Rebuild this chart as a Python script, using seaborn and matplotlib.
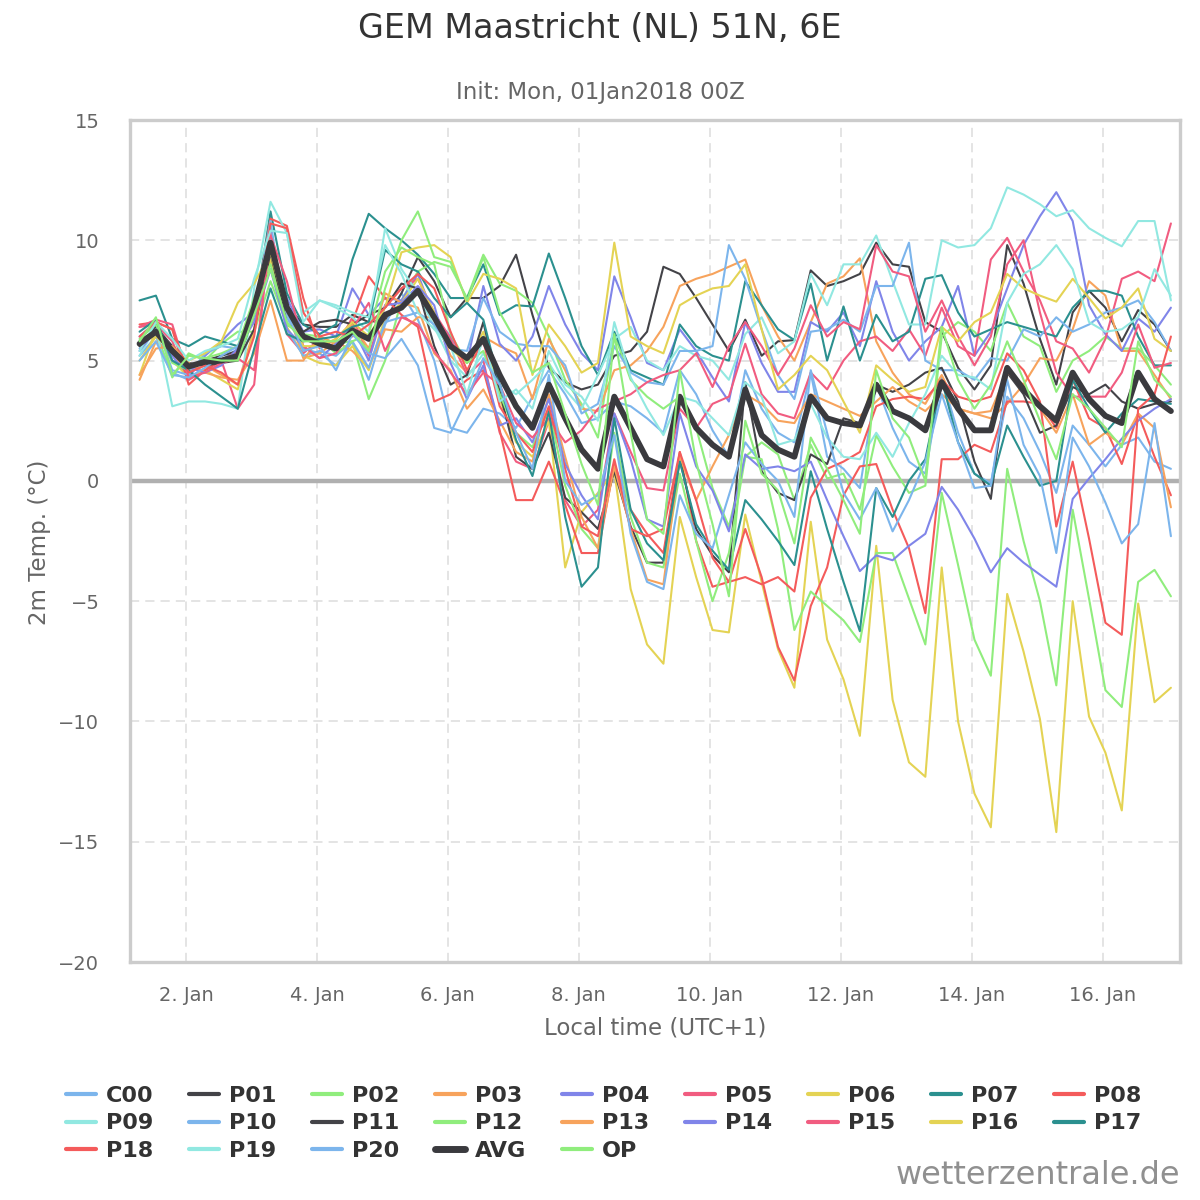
import numpy as np
import pandas as pd
import seaborn as sns
import matplotlib
matplotlib.use("Agg")
import matplotlib.pyplot as plt
from matplotlib.lines import Line2D

# 6-hourly steps, +6h .. +384h, shown in local time (UTC+1)
times = pd.date_range("2018-01-01 07:00", periods=64, freq="6h")

avg = [5.7, 6.2, 5.4, 4.75, 4.95, 5.0, 5.2, 7.2,
       9.9, 7.2, 6.0, 5.7, 5.5, 6.25, 5.9, 6.9,
       7.2, 7.9, 6.8, 5.6, 5.1, 5.9, 4.4, 3.1,
       2.2, 4.0, 2.6, 1.3, 0.5, 3.5, 2.2, 0.9,
       0.6, 3.5, 2.2, 1.5, 1.0, 3.8, 1.9, 1.3,
       1.0, 3.5, 2.6, 2.4, 2.3, 4.0, 2.9, 2.6,
       2.1, 4.1, 3.0, 2.1, 2.1, 4.7, 3.8, 3.1,
       2.5, 4.5, 3.4, 2.7, 2.4, 4.5, 3.4, 2.9]

c00 = [5.2, 6.0, 4.5, 4.2, 4.6, 5.0, 5.5, 7.0,
       10.2, 6.8, 5.5, 5.3, 4.8, 5.8, 4.2, 6.5,
       7.8, 6.7, 5.0, 2.2, 2.0, 3.0, 2.8, 2.2,
       3.5, 4.6, 3.6, 2.4, 2.6, 3.3, 3.1, 2.6,
       2.0, 4.6, 3.6, 2.1, 1.0, 4.6, 3.0, 2.0,
       1.6, 4.5, 1.0, 0.5, -0.3, 4.0, 2.2, 0.8,
       0.3, 4.3, 2.0, 0.3, -0.1, 3.5, 2.6, 1.2,
       -0.5, 2.3, 1.5, 0.6, 1.5, 1.8, 0.8, 0.5]

p01 = [5.8, 6.3, 5.4, 4.8, 5.0, 5.2, 5.4, 7.0,
       9.8, 7.3, 6.5, 6.4, 6.4, 6.9, 6.6, 6.7,
       7.8, 9.3, 8.3, 6.8, 7.6, 7.6, 8.1, 9.4,
       6.9, 4.7, 4.1, 3.8, 4.0, 5.2, 5.4, 6.2,
       8.9, 8.6, 7.6, 6.5, 5.4, 6.7, 5.2, 5.8,
       5.85, 8.75, 8.1, 8.3, 8.6, 9.9, 9.0, 8.9,
       6.6, 6.2, 4.7, 3.8, 4.8, 9.8, 8.2, 5.9,
       4.0, 7.0, 7.9, 7.2, 5.8, 7.1, 6.5, 5.4]

p02 = [5.8, 6.2, 4.3, 5.3, 5.0, 5.7, 6.2, 6.2,
       8.3, 6.5, 6.1, 6.0, 5.7, 5.8, 3.4, 5.0,
       7.5, 8.7, 9.1, 8.9, 7.6, 9.4, 8.2, 7.9,
       7.4, 6.0, 4.2, 3.2, 1.8, 6.1, 4.2, 3.5,
       3.0, 3.5, 2.2, -0.3, -1.9, 1.0, 1.6, 1.1,
       -0.8, 1.5, 0.1, 0.3, -1.2, 1.9, 0.6, -0.5,
       -0.2, 6.0, 6.6, 6.2, 5.4, 7.4, 6.0, 5.6,
       3.7, 5.0, 5.4, 6.0, 5.5, 5.5, 4.8, 4.0]

p03 = [4.2, 5.8, 5.3, 4.5, 4.8, 4.4, 4.0, 6.3,
       10.3, 7.2, 5.1, 5.3, 5.8, 5.4, 4.7, 6.3,
       6.2, 6.8, 6.8, 5.2, 4.5, 6.0, 5.6, 5.3,
       3.4, 5.9, 4.6, 3.0, 2.9, 4.6, 4.8, 5.4,
       6.4, 8.1, 8.4, 8.6, 8.9, 9.2, 7.3, 6.0,
       5.0, 6.6, 8.2, 8.5, 9.25, 5.8, 4.5, 3.6,
       3.2, 4.4, 3.0, 2.8, 2.6, 3.2, 4.0, 5.1,
       5.0, 6.3, 8.3, 7.7, 5.4, 5.4, 4.4, 3.4]

p04 = [6.0, 6.6, 5.2, 4.3, 5.2, 5.8, 6.5, 7.0,
       9.2, 7.6, 6.2, 6.3, 6.0, 8.0, 6.9, 7.6,
       7.5, 8.6, 6.8, 6.0, 4.9, 8.1, 5.7, 5.0,
       6.0, 8.1, 6.5, 5.3, 4.6, 8.5, 6.8, 4.9,
       4.6, 6.3, 5.4, 4.3, 3.3, 6.6, 4.9, 3.7,
       3.7, 6.6, 6.2, 7.0, 5.6, 8.3, 6.2, 5.0,
       5.8, 6.4, 8.1, 5.2, 6.2, 8.0, 9.8, 11.0,
       12.0, 10.8, 7.3, 6.1, 5.4, 6.75, 6.2, 7.2]

p05 = [6.4, 6.5, 5.8, 4.2, 4.6, 5.0, 3.0, 4.0,
       10.6, 6.1, 5.3, 5.9, 5.5, 6.8, 5.2, 7.3,
       8.0, 8.4, 7.0, 5.9, 4.4, 5.0, 2.0, 0.8,
       0.5, 2.5, -0.8, -1.9, -1.2, 2.8, 1.2, -0.3,
       -0.4, 3.0, 2.2, 3.2, 3.5, 5.7, 3.6, 2.8,
       2.6, 4.5, 3.8, 5.0, 5.8, 6.0, 5.4, 6.3,
       5.2, 7.2, 5.6, 5.2, 9.2, 10.1, 8.7, 7.5,
       5.8, 5.5, 4.5, 5.9, 8.4, 8.7, 8.3, 10.7]

p06 = [4.4, 6.3, 5.0, 4.3, 4.6, 4.2, 3.8, 6.2,
       9.2, 6.4, 5.2, 4.9, 4.8, 5.6, 4.6, 6.8,
       7.4, 8.4, 7.0, 5.5, 4.9, 6.2, 3.4, 1.6,
       1.0, 2.5, -3.6, -1.3, -0.5, 0.4, -4.5, -6.8,
       -7.6, -1.5, -4.0, -6.2, -6.3, -1.4, -4.2, -7.0,
       -8.6, -1.7, -6.6, -8.25, -10.6, -2.7, -9.1, -11.7,
       -12.3, -3.6, -10.0, -13.0, -14.4, -4.7, -7.1, -9.9,
       -14.6, -5.0, -9.8, -11.3, -13.7, -5.1, -9.2, -8.6]

p07 = [7.5, 7.7, 5.9, 5.6, 6.0, 5.8, 5.6, 6.8,
       11.2, 7.8, 6.5, 6.1, 6.5, 9.2, 11.1, 10.5,
       10.0, 9.4, 8.6, 7.6, 7.6, 9.0, 6.9, 7.3,
       7.25, 9.45, 7.6, 5.6, 4.4, 6.2, 4.6, 4.3,
       4.0, 6.5, 5.6, 5.2, 5.0, 8.3, 7.3, 6.3,
       5.85, 8.2, 5.0, 7.25, 5.0, 6.9, 5.8, 6.2,
       8.4, 8.55, 7.0, 6.0, 6.3, 6.6, 6.4, 6.2,
       6.0, 7.2, 7.9, 7.9, 7.7, 6.0, 4.8, 4.8]

p08 = [6.5, 6.6, 6.3, 4.0, 4.6, 5.0, 5.4, 6.8,
       10.9, 10.6, 7.6, 5.5, 5.9, 6.6, 8.5, 7.6,
       6.9, 6.4, 3.3, 3.6, 4.2, 4.6, 2.1, -0.8,
       -0.8, 0.8, -1.0, -3.0, -3.0, 0.7, -1.2, -2.2,
       -3.0, 1.2, -2.5, -4.4, -4.2, -2.0, -4.0, -6.9,
       -8.3, -5.2, -3.6, -0.6, 0.6, 0.7, -1.2, -2.8,
       -5.5, 0.9, 0.9, 1.5, 1.2, 3.3, 3.3, 3.2,
       2.2, 4.2, 2.6, 2.2, 0.7, 2.8, 1.0, -0.6]

p09 = [5.2, 6.4, 3.1, 3.3, 3.3, 3.2, 3.0, 8.0,
       11.6, 10.3, 7.0, 7.5, 7.2, 6.8, 6.2, 10.5,
       8.8, 7.8, 6.4, 5.0, 4.3, 5.3, 4.0, 3.6,
       4.2, 4.9, 3.8, 3.0, 4.4, 5.9, 6.4, 5.0,
       4.6, 5.6, 5.2, 5.0, 4.2, 6.1, 6.8, 5.3,
       5.8, 8.6, 7.3, 9.0, 9.0, 10.2, 8.3, 6.5,
       6.5, 10.0, 9.7, 9.8, 10.5, 12.2, 11.9, 11.5,
       11.0, 11.25, 10.5, 10.1, 9.75, 10.8, 10.8, 7.5]

p10 = [5.5, 6.5, 4.6, 4.4, 5.3, 5.6, 5.5, 6.8,
       10.8, 6.3, 5.2, 5.4, 5.2, 5.8, 4.7, 6.6,
       6.8, 7.0, 6.5, 5.5, 5.4, 7.6, 6.2, 5.7,
       5.6, 5.6, 4.8, 2.8, 3.2, 5.6, 4.5, 4.1,
       4.0, 5.4, 5.4, 5.6, 9.8, 8.4, 6.3, 4.4,
       3.4, 6.2, 6.3, 6.7, 6.2, 8.1, 8.1, 9.9,
       5.0, 4.6, 4.6, 4.2, 5.1, 5.0, 6.3, 6.0,
       6.8, 6.2, 6.5, 7.0, 7.2, 7.5, 6.6, 5.4]

p11 = [5.6, 6.4, 5.6, 4.9, 4.8, 4.9, 5.0, 6.3,
       9.5, 6.5, 6.2, 6.6, 6.7, 6.5, 6.9, 7.2,
       8.2, 8.0, 5.6, 4.0, 4.4, 6.6, 3.7, 1.0,
       0.5, 2.0, -0.7, -1.3, -2.0, 0.4, -1.9, -3.4,
       -3.4, 0.9, -2.0, -3.1, -3.8, 4.1, 0.4, -0.5,
       -0.8, 1.1, 0.7, 2.6, 2.4, 4.0, 3.7, 4.0,
       4.5, 4.7, 3.3, 0.8, -0.75, 4.5, 3.6, 2.0,
       2.3, 3.9, 3.6, 4.0, 3.3, 3.0, 3.2, 3.3]

p12 = [5.9, 6.5, 4.9, 4.6, 5.1, 5.3, 5.6, 7.6,
       9.0, 6.5, 6.0, 5.9, 5.3, 5.8, 6.1, 8.7,
       9.7, 9.3, 9.0, 6.1, 4.9, 5.4, 3.6, 2.0,
       1.4, 3.0, -0.2, -2.0, -2.8, 2.0, -1.5, -3.4,
       -3.6, 0.3, -2.5, -5.0, -3.0, 1.0, 0.9, -2.0,
       -6.2, -4.6, -5.2, -5.8, -6.7, -3.0, -3.0, -4.9,
       -6.8, -0.5, -3.5, -6.6, -8.1, 0.5, -2.5, -5.0,
       -8.5, -1.2, -4.9, -8.7, -9.4, -4.2, -3.7, -4.8]

p13 = [4.4, 5.5, 5.6, 4.9, 4.5, 4.3, 4.2, 5.3,
       7.5, 5.0, 5.0, 6.0, 5.7, 6.5, 5.5, 7.8,
       7.4, 7.2, 5.3, 4.6, 3.0, 3.8, 2.5, 1.2,
       0.8, 3.6, 1.0, -1.5, -2.8, 0.6, -2.0, -4.1,
       -4.3, 1.0, -0.8, 0.6, 1.9, 3.6, 3.2, 2.5,
       2.4, 3.6, 3.3, 3.0, 2.7, 3.3, 3.9, 3.3,
       2.9, 3.6, 3.0, 2.8, 2.9, 4.5, 4.0, 3.0,
       2.0, 3.6, 1.5, 2.0, 1.5, 2.8, 2.2, -1.1]

p14 = [5.4, 6.3, 5.0, 4.7, 4.5, 4.8, 5.5, 6.6,
       8.8, 6.3, 5.6, 5.1, 5.7, 6.4, 5.0, 7.3,
       7.4, 8.1, 7.3, 4.9, 3.4, 4.8, 2.3, 2.6,
       1.6, 3.4, 0.7, -0.6, -1.6, 2.8, 0.9, -1.6,
       -1.9, 2.8, 0.6, -0.4, -2.1, 1.1, 0.5, 0.6,
       0.4, 0.8, -0.8, -2.3, -3.75, -3.1, -3.3, -2.7,
       -2.2, -0.25, -1.2, -2.4, -3.8, -2.8, -3.4, -3.9,
       -4.4, -0.75, 0.1, 0.9, 1.75, 2.5, 3.0, 3.4]

p15 = [6.4, 6.7, 6.5, 4.3, 4.5, 4.9, 5.1, 4.6,
       10.2, 8.3, 5.6, 5.1, 5.3, 6.3, 7.4, 5.4,
       6.8, 6.5, 5.4, 4.5, 3.6, 4.5, 4.0, 2.4,
       1.8, 2.6, 1.6, 2.1, 3.0, 3.3, 3.6, 4.1,
       4.4, 4.6, 5.3, 3.9, 5.6, 6.6, 5.6, 4.4,
       5.5, 7.3, 6.0, 6.6, 6.3, 9.8, 8.7, 8.5,
       6.2, 7.5, 6.0, 4.8, 6.0, 9.0, 10.0, 7.0,
       4.5, 3.5, 3.5, 3.5, 4.5, 6.5, 4.7, 4.9]

p16 = [5.0, 6.0, 5.4, 5.0, 5.3, 5.8, 7.4, 8.2,
       9.5, 7.0, 5.6, 5.6, 5.9, 6.6, 6.0, 7.2,
       9.5, 9.7, 9.8, 9.3, 7.4, 8.6, 8.4, 8.0,
       4.4, 6.5, 5.6, 4.5, 4.9, 9.9, 6.0, 5.6,
       5.3, 7.3, 7.7, 8.0, 8.1, 9.0, 6.3, 3.8,
       4.4, 5.2, 4.6, 3.3, 2.0, 4.8, 4.2, 3.7,
       3.9, 6.4, 5.8, 6.6, 7.0, 8.6, 8.0, 7.7,
       7.45, 8.4, 7.6, 6.75, 7.2, 8.0, 5.9, 5.4]

p17 = [6.2, 6.7, 5.0, 4.6, 4.0, 3.5, 3.0, 5.5,
       8.0, 6.1, 5.8, 5.9, 6.0, 6.4, 6.6, 9.6,
       9.0, 8.7, 7.6, 6.8, 7.4, 6.7, 4.0, 1.7,
       0.2, 2.9, -1.5, -4.4, -3.6, 2.6, -1.2, -2.6,
       -3.3, 0.8, -1.8, -2.9, -3.7, -0.8, -1.6, -2.5,
       -3.5, 0.4, -2.0, -4.2, -6.25, -0.3, -1.5, 0.0,
       0.9, 4.2, 1.6, 0.3, -0.2, 2.3, 1.0, -0.2,
       0.0, 4.2, 3.0, 2.0, 2.8, 3.4, 3.3, 3.2]

p18 = [6.0, 6.6, 6.3, 4.5, 4.8, 4.5, 4.0, 6.0,
       10.7, 10.5, 7.0, 6.0, 6.2, 6.0, 6.5, 7.2,
       8.0, 8.6, 8.0, 6.2, 4.6, 5.8, 3.1, 2.0,
       1.2, 3.1, 0.5, -1.9, -2.3, 0.9, -2.0, -2.3,
       -2.0, 1.2, -0.8, -3.2, -4.2, -4.0, -4.3, -4.0,
       -4.6, -0.7, 0.5, 0.8, 1.2, 3.1, 3.4, 3.5,
       3.4, 4.2, 3.5, 3.3, 3.5, 5.3, 4.6, 3.3,
       -1.9, 0.8, -2.4, -5.9, -6.4, 3.0, 3.6, 6.0]

p19 = [5.4, 6.6, 5.9, 5.0, 5.4, 5.6, 5.9, 8.4,
       10.4, 10.3, 6.6, 7.5, 7.3, 7.0, 6.8, 9.8,
       8.6, 7.0, 6.3, 5.6, 3.6, 6.0, 3.3, 3.8,
       3.0, 5.4, 4.0, 3.5, 2.5, 6.6, 4.3, 3.0,
       1.9, 3.5, 3.3, 2.6, 1.9, 4.1, 3.5, 1.5,
       1.7, 3.2, 1.8, 1.0, 0.9, 2.0, 1.0, 2.4,
       3.6, 5.2, 4.4, 4.3, 3.8, 7.4, 8.6, 9.0,
       9.8, 8.8, 6.6, 6.2, 6.3, 6.8, 8.8, 7.7]

p20 = [5.0, 5.8, 4.4, 4.3, 4.7, 5.2, 5.6, 6.9,
       10.0, 7.0, 5.4, 5.6, 4.6, 6.1, 5.3, 5.1,
       5.9, 4.8, 2.2, 2.0, 3.4, 5.1, 4.0, 2.0,
       0.5, 4.4, 0.0, -1.0, -0.6, 1.9, -2.2, -4.2,
       -4.5, -0.6, -2.2, -2.8, -0.6, 1.6, 0.7, 0.0,
       -1.5, 4.6, 2.0, -0.5, -1.6, -0.3, -2.1, -0.8,
       0.8, 3.6, 1.6, -0.3, -0.2, 4.2, 1.5, 0.2,
       -3.0, 1.8, 0.6, -0.9, -2.6, -1.8, 2.4, -2.3]

op = [5.8, 6.8, 4.4, 5.2, 5.1, 5.0, 5.0, 6.9,
      8.8, 6.6, 5.8, 5.8, 5.8, 6.2, 5.4, 8.0,
      10.0, 11.2, 9.3, 9.1, 7.5, 9.3, 7.0, 5.8,
      4.5, 4.9, 2.8, 0.7, -1.0, 6.1, 2.0, -1.6,
      -2.2, 4.6, 0.8, -1.8, -4.8, 2.5, 0.3, -0.4,
      -2.6, 1.8, 0.5, -0.8, -2.2, 4.6, 2.6, 1.8,
      0.0, 6.4, 4.2, 3.0, 4.0, 5.8, 4.2, 2.5,
      0.9, 3.6, 3.0, 2.2, 1.4, 5.8, 4.2, 3.5]

names = ["C00", "P01", "P02", "P03", "P04", "P05", "P06", "P07", "P08", "P09",
         "P10", "P11", "P12", "P13", "P14", "P15", "P16", "P17", "P18", "P19",
         "P20", "AVG", "OP"]
values = [c00, p01, p02, p03, p04, p05, p06, p07, p08, p09,
          p10, p11, p12, p13, p14, p15, p16, p17, p18, p19,
          p20, avg, op]

tick_days = pd.date_range("2018-01-02", "2018-01-16", freq="2D")
tick_labels = ["2. Jan", "4. Jan", "6. Jan", "8. Jan", "10. Jan",
               "12. Jan", "14. Jan", "16. Jan"]

palette = ["#7cb5ec", "#434348", "#90ed7d", "#f7a35c", "#8085e9",
           "#f15c80", "#e4d354", "#2b908f", "#f45b5b", "#91e8e1"]

for n, v in zip(names, values):
    if len(v) != len(times):
        print("bad length", n, len(v))

sns.set_style("white")
plt.rcParams["font.family"] = ["DejaVu Sans"]

fig = plt.figure(figsize=(12, 12), dpi=100)
ax = fig.add_axes([130 / 1200, 1 - 962 / 1200, 1050 / 1200, 842 / 1200])

colors = {}
for i, n in enumerate(names):
    colors[n] = palette[i % 10]
colors["AVG"] = "#3a3a3e"

for n, v in zip(names, values):
    lw = 4.2 if n == "AVG" else 1.5
    sns.lineplot(x=times, y=v, ax=ax, color=colors[n], linewidth=lw,
                 legend=False, zorder=3)

ax.axhline(0, color="#b0b0b0", linewidth=3.2, zorder=2)

ax.set_ylim(-20, 15)
ax.set_yticks(range(-20, 16, 5))
ax.set_xlim(pd.Timestamp("2018-01-01 03:30"), pd.Timestamp("2018-01-17 04:20"))
ax.set_xticks(tick_days)
ax.set_xticklabels(tick_labels)
ax.grid(True, color="#dcdcdc", linestyle=(0, (6, 4)), linewidth=1.1)
ax.tick_params(axis="both", labelsize=14, labelcolor="#666666")
ax.tick_params(axis="y", length=0, pad=22)
ax.tick_params(axis="x", length=14, width=1, color="#ccd6eb", pad=3)
ax.set_xlabel("")
ax.set_ylabel("")
for s in ax.spines.values():
    s.set_color("#cccccc")
    s.set_linewidth(2.4)

fig.text(0.5, 1 - 28 / 1200, "GEM Maastricht (NL) 51N, 6E", ha="center",
         va="center", fontsize=24, color="#333333")
fig.text(0.5, 1 - 92 / 1200, "Init: Mon, 01Jan2018 00Z", ha="center",
         va="center", fontsize=16.5, color="#666666")
fig.text(655 / 1200, 1 - 1028 / 1200, "Local time (UTC+1)", ha="center",
         va="center", fontsize=16.5, color="#666666")
fig.text(40 / 1200, 1 - 542 / 1200, "2m Temp. (°C)", ha="center",
         va="center", rotation=90, fontsize=16.5, color="#666666")
fig.text(1180 / 1200, 1 - 1176 / 1200, "wetterzentrale.de", ha="right",
         va="center", fontsize=23, color="#909090")

# legend goes row by row, matplotlib fills columns, so reorder
handles = []
labels = []
for c in range(9):
    for r in range(3):
        k = c + 9 * r
        if k < len(names):
            n = names[k]
            handles.append(Line2D([], [], color=colors[n],
                                  linewidth=5 if n == "AVG" else 3))
            labels.append(n)
fig.legend(handles, labels, ncol=9, loc="upper center",
           bbox_to_anchor=(0.503, 1 - 1066 / 1200), frameon=False,
           prop={"weight": "bold", "size": 16}, handlelength=1.35,
           handletextpad=0.45, columnspacing=1.6, labelspacing=0.33,
           labelcolor="#333333")

fig.savefig("out.png", dpi=100, facecolor="white")
